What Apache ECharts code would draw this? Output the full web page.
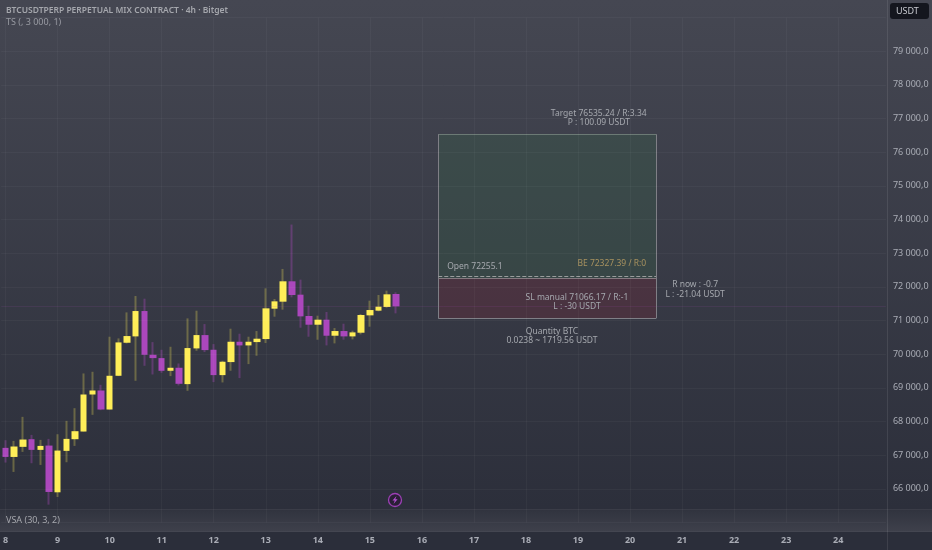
<!DOCTYPE html>
<html><head><meta charset="utf-8">
<style>html,body{margin:0;padding:0;background:#2b2e3a}#c{width:932px;height:550px}</style>
<script src="https://cdn.jsdelivr.net/npm/echarts@6/dist/echarts.min.js"></script>
</head><body><div id="c"></div>
<script>
const opens =[67220,66950,67250,67477,67160,67288,65900,67130,67477,67705,68805,68924,68359,69361,70342,70531,71284,69985,69886,69509,69599,69113,70174,70570,70134,69381,69768,70372,70263,70362,70452,71354,71562,72167,71770,71136,70878,71027,70551,70690,70531,70640,71156,71295,71404,71790];
const closes=[66950,67260,67467,67160,67278,65910,67140,67487,67715,68805,68924,68359,69361,70352,70541,71284,69985,69886,69509,69599,69123,70184,70570,70124,69381,69778,70372,70263,70372,70462,71364,71572,72167,71761,71126,70878,71027,70551,70690,70531,70650,71166,71314,71414,71780,71423];
const lows  =[66783,66505,67100,66763,66713,65533,65761,66793,67278,67705,68201,68339,68359,69351,70322,69212,69658,69400,69450,69351,69073,68914,70104,70065,69173,69163,69510,69292,69708,69956,70333,71116,71324,71691,70789,70521,70432,70263,70323,70432,70442,70591,70819,71275,71384,71215];
const highs =[67447,67427,68141,67606,67457,67487,67625,68022,68399,69430,69480,69093,70521,70471,71244,71730,71651,70362,70134,70223,69727,71066,71294,70897,70303,69807,70759,70610,70521,70690,71959,71642,72534,73853,72217,71443,71146,71255,70779,70908,70700,71195,71592,71761,71889,71840];
const dayLabels=[8,9,10,11,12,13,14,15,16,17,18,19,20,21,22,23,24];
const candlesPerDay=6;
const slotCount=102;
const categories=Array.from({length:slotCount},(_,i)=>i%candlesPerDay===0?String(dayLabels[i/candlesPerDay]):'');

const targetPrice=76535.24, openPrice=72255.1, bePrice=72327.39, stopPrice=71066.17, lastPrice=71423;
const toolStartDay=16.315, toolEndDay=20.50;
const noteTexts=['Target 76535.24 / R:3.34','P : 100.09 USDT','Open 72255.1','BE 72327.39 / R:0','SL manual 71066.17 / R:-1','L : -30 USDT','Quantity BTC','0.0238 ~ 1719.56 USDT','R now : -0.7','L : -21.04 USDT'];
const noteDays=[19.40,19.40,17.02,19.65,18.98,18.98,18.50,18.50,21.25,21.25];
const notePrices=[77161,76885,72602,72692,71680,71413,70669,70402,72067,71770];

const FONT='"Noto Sans", sans-serif';
const GRID={left:-0.6,width:886.5,top:17.6,height:505};
const up='#ffee58',down='#ab47bc',upWick='rgba(255,238,88,0.28)',downWick='rgba(171,71,188,0.36)';
const ohlc=opens.map((o,i)=>[o,closes[i],lows[i],highs[i]]);
const bodies=opens.map((o,i)=>[o,closes[i],Math.min(o,closes[i]),Math.max(o,closes[i])]);

const chart=echarts.init(document.getElementById('c'),null,{renderer:'canvas',width:932,height:550});
chart.setOption({
  animation:false,
  backgroundColor:{type:'linear',x:0,y:0,x2:0,y2:1,colorStops:[{offset:0,color:'#454752'},{offset:1,color:'#2a2d39'}]},
  grid:GRID,
  xAxis:[
   {type:'category',data:categories,boundaryGap:true,z:60,
    axisLine:{show:false},axisTick:{show:false},
    axisLabel:{interval:candlesPerDay-1,margin:13,color:'#a9acb5',fontSize:9,fontWeight:'bold',fontFamily:FONT},
    splitLine:{show:true,alignWithLabel:true,interval:candlesPerDay-1,lineStyle:{color:'rgba(255,255,255,0.035)',width:1}}},
   {type:'value',min:7.917,max:24.917,show:false,splitLine:{show:false}}
  ],
  yAxis:{type:'value',position:'right',min:65000,max:80000,interval:1000,z:60,
    axisLine:{show:false},axisTick:{show:false},
    splitLine:{show:true,lineStyle:{color:'rgba(255,255,255,0.035)',width:1}},
    axisLabel:{margin:7,color:'#a9acb5',fontSize:9,fontFamily:FONT,align:'left',
      formatter:v=>(v>79000||v<66000)?'':String(v/1000)+' 000,0'}},
  series:[
   {type:'candlestick',name:'wicks',data:ohlc,barWidth:1,z:2,
    itemStyle:{color:upWick,color0:downWick,borderColor:upWick,borderColor0:downWick,borderWidth:2},
    markLine:{silent:true,symbol:'none',label:{show:false},lineStyle:{color:'rgba(171,71,188,0.12)',type:'solid',width:1},data:[{yAxis:lastPrice}]}},
   {type:'candlestick',name:'bodies',data:bodies,barWidth:7,z:3,
    itemStyle:{color:up,color0:down,borderColor:'rgba(30,32,40,0.35)',borderColor0:'rgba(30,32,40,0.35)',borderWidth:0}},
   {type:'line',name:'tool',xAxisIndex:1,data:[],z:4,
    markArea:{silent:true,data:[
      [{xAxis:toolStartDay,yAxis:openPrice,itemStyle:{color:'rgba(56,100,72,0.30)'}},{xAxis:toolEndDay,yAxis:targetPrice}],
      [{xAxis:toolStartDay,yAxis:stopPrice,itemStyle:{color:'rgba(120,40,55,0.30)'}},{xAxis:toolEndDay,yAxis:openPrice}]
    ]},
    markLine:{silent:true,symbol:'none',label:{show:false},data:[
      [{coord:[toolStartDay,targetPrice],lineStyle:{color:'#6c7a75',type:'solid',width:1}},{coord:[toolEndDay,targetPrice]}],
      [{coord:[toolStartDay,stopPrice],lineStyle:{color:'#7f7f86',type:'solid',width:1}},{coord:[toolEndDay,stopPrice]}],
      [{coord:[toolStartDay,stopPrice],lineStyle:{color:'#7f7f86',type:'solid',width:1}},{coord:[toolStartDay,targetPrice]}],
      [{coord:[toolEndDay,stopPrice],lineStyle:{color:'#7f7f86',type:'solid',width:1}},{coord:[toolEndDay,targetPrice]}],
      [{coord:[toolStartDay,openPrice],lineStyle:{color:'#857a80',type:'solid',width:1}},{coord:[toolEndDay,openPrice]}],
      [{coord:[toolStartDay,bePrice],lineStyle:{color:'#9a9c9c',type:'dashed',width:1}},{coord:[toolEndDay,bePrice]}]
    ]}},
   {type:'custom',name:'notes',xAxisIndex:1,z:6,silent:true,clip:false,
    data:noteDays.map((d,i)=>[d,notePrices[i]]),encode:{x:0,y:1},
    renderItem:(p,api)=>{
      const c=api.coord([api.value(0),api.value(1)]);
      const t=noteTexts[p.dataIndex];
      return {type:'text',x:c[0],y:c[1],style:{text:t,fill:t.startsWith('BE')?'#a8925f':'#a5a8ae',font:'8.5px '+FONT,align:'center',verticalAlign:'middle'}};
    }}
  ],
  graphic:[
   {type:'rect',z:50,shape:{x:0,y:509,width:932,height:22},style:{fill:{type:'linear',x:0,y:0,x2:0,y2:1,colorStops:[{offset:0,color:'#30333e'},{offset:1,color:'#3e404b'}]}}},
   {type:'rect',z:50,shape:{x:0,y:531,width:932,height:19},style:{fill:'#2b2e3a'}},
   {type:'rect',z:51,shape:{x:0,y:531,width:932,height:1},style:{fill:'#444651'}},
   {type:'rect',z:51,shape:{x:0,y:509,width:932,height:1},style:{fill:'#3a3c47'}},
   {type:'rect',z:51,shape:{x:887,y:0,width:1,height:550},style:{fill:'rgba(255,255,255,0.09)'}},
   {type:'rect',z:52,shape:{x:890,y:3,width:39,height:16,r:3},style:{fill:'#14161e'}},
   {type:'text',z:53,x:896,y:11,style:{text:'USDT',fill:'#c8cad0',font:'9px '+FONT,verticalAlign:'middle'}},
   {type:'text',z:53,x:6,y:11,style:{text:'BTCUSDTPERP PERPETUAL MIX CONTRACT · 4h · Bitget',fill:'#a5a7ad',font:'600 8.5px '+FONT,verticalAlign:'middle'}},
   {type:'text',z:53,x:6,y:22,style:{text:'TS (, 3 000, 1)',fill:'#989aa2',font:'9px '+FONT,verticalAlign:'middle'}},
   {type:'text',z:53,x:6,y:520,style:{text:'VSA (30, 3, 2)',fill:'#a5a7ad',font:'9px '+FONT,verticalAlign:'middle'}},
   {type:'circle',z:53,shape:{cx:395,cy:500,r:6.5},style:{fill:'#2a1f36',stroke:'#9c3fb5',lineWidth:1.3}},
   {type:'polygon',z:54,shape:{points:[[396.5,496],[392.5,500.6],[394.8,500.6],[393.5,504],[397.6,499.2],[395.3,499.2]]},style:{fill:'#b44fd0'}}
  ]
});
</script></body></html>
